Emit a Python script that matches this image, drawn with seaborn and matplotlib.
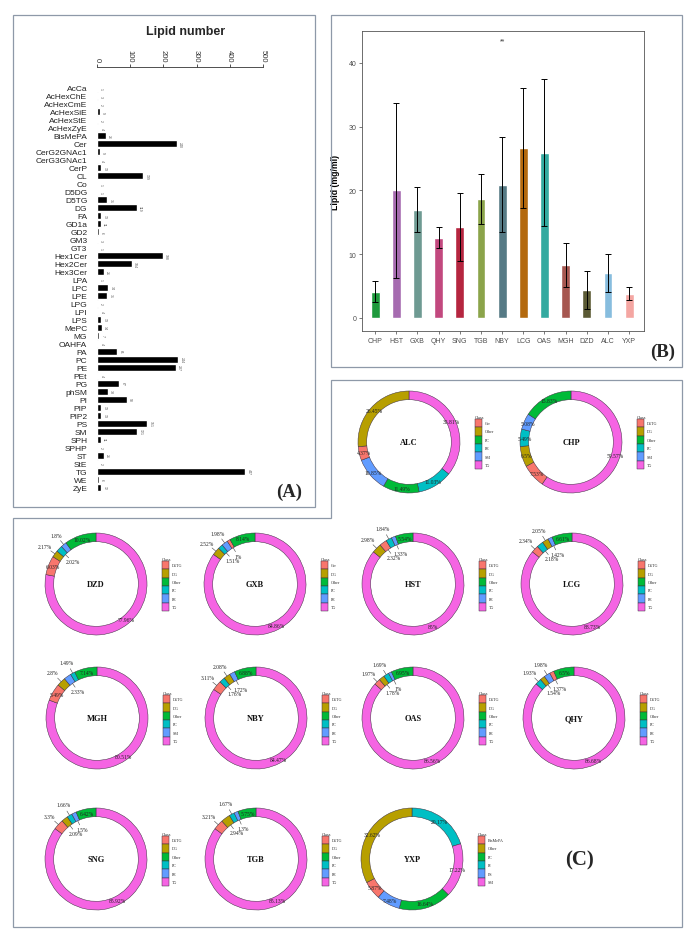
import numpy as np
import pandas as pd
import seaborn as sns
import matplotlib
matplotlib.use('Agg')
import matplotlib.pyplot as plt
from matplotlib.patches import Rectangle, Polygon

sns.set_theme(style="white")
plt.rcParams['font.family'] = ['Liberation Sans', 'DejaVu Sans']
SERIF = 'Liberation Serif'

# ---------- (A) number of lipid species per class
lipid_class = ['AcCa', 'AcHexChE', 'AcHexCmE', 'AcHexSiE', 'AcHexStE', 'AcHexZyE', 'BisMePA',
               'Cer', 'CerG2GNAc1', 'CerG3GNAc1', 'CerP', 'CL', 'Co', 'D5DG', 'D5TG', 'DG',
               'FA', 'GD1a', 'GD2', 'GM3', 'GT3', 'Hex1Cer', 'Hex2Cer', 'Hex3Cer', 'LPA',
               'LPC', 'LPE', 'LPG', 'LPI', 'LPS', 'MePC', 'MG', 'OAHFA', 'PA', 'PC', 'PE',
               'PEt', 'PG', 'phSM', 'PI', 'PIP', 'PIP2', 'PS', 'SM', 'SPH', 'SPHP', 'ST',
               'StE', 'TG', 'WE', 'ZyE']
lipid_count = [1, 3, 2, 9, 2, 4, 26, 240, 9, 4, 13, 139, 1, 1, 31, 119, 13, 11, 6, 3, 1,
               198, 104, 21, 1, 34, 31, 2, 4, 13, 14, 7, 4, 61, 244, 237, 4, 67, 33, 90,
               13, 13, 151, 121, 11, 2, 21, 2, 447, 6, 12]

# ---------- (B) total lipid per sample
sites = ['CHP', 'HST', 'GXB', 'QHY', 'SNG', 'TGB', 'NBY', 'LCG', 'OAS', 'MGH', 'DZD', 'ALC', 'YXP']
lipid_mean = [4.1, 20.0, 17.0, 12.6, 14.2, 18.7, 20.9, 26.7, 25.9, 8.3, 4.4, 7.1, 3.8]
lipid_sd = [1.65, 13.7, 3.6, 1.7, 5.35, 3.9, 7.5, 9.4, 11.5, 3.5, 3.0, 3.0, 1.05]
site_colors = ['#1E9A3C', '#A66BB0', '#6E9A92', '#C2487E', '#B5253F', '#8BA44A', '#567A85',
               '#B3690E', '#33AAA0', '#A65750', '#5B5A34', '#87BDDE', '#F4A6A2']

# ---------- (C) class composition (clockwise from 12 o'clock)
ring_colors = ['#F8766D', '#B79F00', '#00BA38', '#00BFC4', '#619CFF', '#F564E3']
ALC_class = ['TG', 'PE', 'PC', 'SM', 'Cer', 'Other']
ALC_pct = [35.81, 11.03, 11.49, 10.85, 4.37, 26.45]
CHP_class = ['TG', 'D5TG', 'DG', 'PC', 'SM', 'Other']
CHP_pct = [59.57, 7.53, 6.5, 5.49, 5.08, 15.83]
DZD_class = ['TG', 'D5TG', 'DG', 'PC', 'PE', 'Other']
DZD_pct = [77.96, 6.03, 2.17, 2.02, 1.8, 10.02]
GXB_class = ['TG', 'DG', 'PC', 'PE', 'Cer', 'Other']
GXB_pct = [84.86, 2.52, 1.51, 1.98, 1.0, 8.14]
HST_class = ['TG', 'DG', 'D5TG', 'PC', 'PE', 'Other']
HST_pct = [85.0, 2.98, 2.32, 1.84, 1.33, 5.54]
LCG_class = ['TG', 'D5TG', 'PC', 'DG', 'PE', 'Other']
LCG_pct = [88.73, 2.34, 2.18, 2.05, 1.42, 6.61]
MGH_class = ['TG', 'D5TG', 'DG', 'SM', 'PC', 'Other']
MGH_pct = [80.51, 5.49, 2.8, 2.33, 1.49, 7.14]
NBY_class = ['TG', 'D5TG', 'PC', 'DG', 'PE', 'Other']
NBY_pct = [84.47, 3.11, 1.76, 2.08, 1.72, 6.88]
OAS_class = ['TG', 'D5TG', 'DG', 'PC', 'PE', 'Other']
OAS_pct = [86.56, 1.97, 1.78, 1.69, 1.0, 6.95]
QHY_class = ['TG', 'PC', 'DG', 'PE', 'D5TG', 'Other']
QHY_pct = [86.68, 1.93, 1.54, 1.98, 1.37, 6.5]
SNG_class = ['TG', 'D5TG', 'DG', 'PC', 'PE', 'Other']
SNG_pct = [85.92, 3.3, 2.09, 1.66, 1.5, 6.42]
TGB_class = ['TG', 'D5TG', 'DG', 'PC', 'PE', 'Other']
TGB_pct = [85.13, 3.21, 2.94, 1.67, 1.3, 5.75]
YXP_class = ['PI', 'SM', 'PC', 'PS', 'BisMePA', 'Other']
YXP_pct = [20.17, 17.22, 16.64, 7.48, 5.87, 32.62]

W, H = 691, 937
fig = plt.figure(figsize=(W / 100, H / 100), dpi=100)
fig.patch.set_facecolor('white')


def px_axes(x0, y0, x1, y1):
    return fig.add_axes([x0 / W, 1 - y1 / H, (x1 - x0) / W, (y1 - y0) / H])


def px_text(x, y, s, **kw):
    fig.text(x / W, 1 - y / H, s, ha='center', va='center', **kw)


# panel frames
frame_kw = dict(fill=False, ec='#8E99A8', lw=0.9, transform=fig.transFigure)
fig.add_artist(Rectangle((13 / W, 1 - 508 / H), 302 / W, 492 / H, **frame_kw))
fig.add_artist(Rectangle((331 / W, 1 - 368 / H), 351 / W, 352 / H, **frame_kw))
c_outline = [(331, 381), (682, 381), (682, 928), (13, 928), (13, 519), (331, 519)]
fig.add_artist(Polygon([(x / W, 1 - y / H) for x, y in c_outline], closed=True, **frame_kw))

# ---------------- (A)
dfA = pd.DataFrame({'lipid': lipid_class, 'count': lipid_count})
axA = px_axes(97, 68, 263, 493)
sns.barplot(data=dfA, x='count', y='lipid', orient='h', color='black', saturation=1,
            width=0.9, ax=axA)
axA.set_xlim(0, 500)
axA.set_ylim(len(lipid_class) - 0.4, -2.6)
axA.xaxis.tick_top()
axA.set_xticks([0, 100, 200, 300, 400, 500])
axA.set_xticklabels(['0', '100', '200', '300', '400', '500'], rotation=-90, fontsize=5.5,
                    color='#333333')
axA.tick_params(axis='x', top=True, length=2.5, width=0.6, color='#333333', pad=1.5)
axA.tick_params(axis='y', left=False, length=0, labelsize=6, pad=7, labelcolor='#222222')
for s in ['left', 'right', 'bottom']:
    axA.spines[s].set_visible(False)
axA.spines['top'].set_color('#333333')
axA.spines['top'].set_linewidth(0.6)
axA.set_xlabel('')
axA.set_ylabel('')
axA.set_facecolor('none')
for i, v in enumerate(lipid_count):
    axA.text(v + 4, i, str(v), rotation=-90, fontsize=2.5, ha='left', va='center',
             color='#555555')
px_text(186, 32, 'Lipid number', fontsize=9, fontweight='bold')
px_text(289, 492, '(A)', fontsize=13.5, fontweight='bold', family=SERIF)

# ---------------- (B)
dfB = pd.DataFrame({'site': sites, 'lipid': lipid_mean})
axB = px_axes(362, 32, 644, 332)
sns.barplot(data=dfB, x='site', y='lipid', hue='site', palette=site_colors, saturation=1,
            width=0.42, legend=False, errorbar=None, ax=axB)
axB.errorbar(x=np.arange(len(sites)), y=lipid_mean, yerr=lipid_sd, fmt='none',
             ecolor='black', elinewidth=0.7, capsize=2, capthick=0.7)
axB.set_xlim(-0.62, len(sites) - 0.3)
axB.set_ylim(-2.05, 45)
axB.set_yticks([0, 10, 20, 30, 40])
axB.tick_params(axis='both', length=2, width=0.5, color='#444444', labelsize=5,
                labelcolor='#4d4d4d', pad=2, bottom=True, left=True)
for s in axB.spines.values():
    s.set_color('#555555')
    s.set_linewidth(0.6)
axB.set_xlabel('')
axB.set_ylabel('Lipid (mg/ml)', fontsize=6.3, fontweight='bold', labelpad=6, color='black')
axB.text(6, 43.5, '**', ha='center', va='center', fontsize=5, color='#333333')
px_text(663, 352, '(B)', fontsize=13.5, fontweight='bold', family=SERIF)

# ---------------- (C)
ring_data = {
    'ALC': (ALC_class, ALC_pct), 'CHP': (CHP_class, CHP_pct), 'DZD': (DZD_class, DZD_pct),
    'GXB': (GXB_class, GXB_pct), 'HST': (HST_class, HST_pct), 'LCG': (LCG_class, LCG_pct),
    'MGH': (MGH_class, MGH_pct), 'NBY': (NBY_class, NBY_pct), 'OAS': (OAS_class, OAS_pct),
    'QHY': (QHY_class, QHY_pct), 'SNG': (SNG_class, SNG_pct), 'TGB': (TGB_class, TGB_pct),
    'YXP': (YXP_class, YXP_pct),
}
ring_layout = [('ALC', 409, 443), ('CHP', 571, 443),
               ('DZD', 96, 585), ('GXB', 255, 585), ('HST', 413, 585), ('LCG', 572, 585),
               ('MGH', 97, 719), ('NBY', 256, 719), ('OAS', 413, 719), ('QHY', 574, 719),
               ('SNG', 96, 860), ('TGB', 256, 860), ('YXP', 412, 860)]
R = 51


def draw_ring(name, cx, cy):
    cls, pct = ring_data[name]
    ax = px_axes(cx - 1.5 * R, cy - 1.5 * R, cx + 1.95 * R, cy + 1.5 * R)
    legend_cls = sorted(cls)
    col = {c: ring_colors[i] for i, c in enumerate(legend_cls)}
    wedges, _ = ax.pie(pct, colors=[col[c] for c in cls], startangle=90, counterclock=False,
                       radius=1, wedgeprops=dict(width=0.17, edgecolor='#3b2f3f', linewidth=0.35))
    ax.set_xlim(-1.5, 1.95)
    ax.set_ylim(-1.5, 1.5)
    ax.set_aspect('equal')
    ax.set_axis_off()
    total = sum(pct)
    cum = 0
    out = True
    for v in pct:
        ang = np.deg2rad(90 - 360 * (cum + v / 2) / total)
        cum += v
        ux, uy = np.cos(ang), np.sin(ang)
        lbl = f"{v:g}%"
        if v / total >= 0.04:
            ax.text(0.915 * ux, 0.915 * uy, lbl, ha='center', va='center', fontsize=4,
                    family=SERIF, color='#222222')
            continue
        r = 1.24 if out else 0.64
        r0 = 1.0 if out else 0.83
        r1 = 1.1 if out else 0.74
        ax.plot([r0 * ux, r1 * ux], [r0 * uy, r1 * uy], color='#444444', lw=0.4)
        ax.text(r * ux, r * uy, lbl, ha='center', va='center', fontsize=4,
                family=SERIF, color='#222222')
        out = not out
    ax.text(0, 0, name, ha='center', va='center', fontsize=6, fontweight='bold',
            family=SERIF, color='#111111')
    handles = [wedges[cls.index(c)] for c in legend_cls]
    ax.legend(handles, legend_cls, title='Class', loc='center left',
              bbox_to_anchor=(1.29, 0.0), bbox_transform=ax.transData, frameon=False,
              prop={'family': SERIF, 'size': 3},
              title_fontproperties={'family': SERIF, 'size': 3.2},
              handlelength=1.75, handleheight=2.76, handletextpad=0.6, labelspacing=0,
              borderpad=0, borderaxespad=0, alignment='left')


for name, cx, cy in ring_layout:
    draw_ring(name, cx, cy)

px_text(580, 860, '(C)', fontsize=15, fontweight='bold', family=SERIF)

fig.savefig('out.png', dpi=100)
